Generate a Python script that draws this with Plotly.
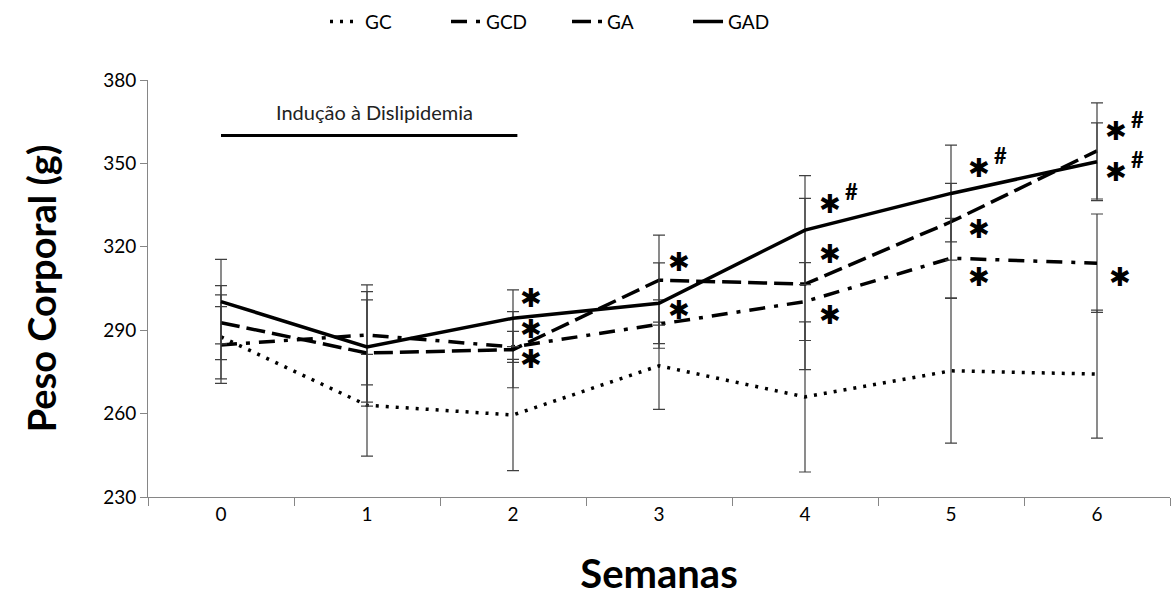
import plotly.graph_objects as go

weeks = ["0", "1", "2", "3", "4", "5", "6"]

gc = [287.6, 263.0, 259.5, 277.2, 266.0, 275.4, 274.2]
gc_err = [15.1, 18.3, 20.0, 15.7, 27.0, 26.0, 23.0]

gcd = [284.7, 288.3, 284.0, 292.2, 300.3, 315.9, 314.1]
gcd_err = [13.8, 18.0, 5.6, 8.7, 14.0, 14.3, 17.7]

ga = [292.7, 281.8, 283.0, 308.0, 306.6, 329.0, 354.5]
ga_err = [13.3, 19.1, 13.7, 16.2, 30.8, 13.8, 17.3]

gad = [300.3, 284.0, 294.3, 299.7, 326.0, 339.2, 350.6]
gad_err = [15.2, 19.9, 10.2, 14.5, 19.6, 17.4, 14.0]

series_names = ["GC", "GCD", "GA", "GAD"]

# significance marks: (x position, y value, has_hash)
stars = [
    (2.12, 301.5, False), (2.12, 290.3, False), (2.12, 279.6, False),
    (3.14, 314.5, False), (3.14, 297.3, False),
    (4.17, 335.5, True), (4.17, 317.5, False), (4.17, 295.3, False),
    (5.19, 348.5, True), (5.19, 326.5, False), (5.19, 309.0, False),
    (6.13, 361.5, True), (6.13, 347.0, True), (6.16, 309.3, False),
]

FONT = "Lato"
fig = go.Figure()

styles = {
    "GC": dict(dash="3px,7px", width=3.5),
    "GCD": dict(dash="16px,9px,4px,9px", width=3.5),
    "GA": dict(dash="19px,7px", width=3.5),
    "GAD": dict(dash="solid", width=3.5),
}
data = {"GC": (gc, gc_err), "GCD": (gcd, gcd_err), "GA": (ga, ga_err), "GAD": (gad, gad_err)}

for name in series_names:
    vals, errs = data[name]
    fig.add_trace(go.Scatter(
        x=weeks, y=vals, name=name, mode="lines",
        line=dict(color="black", width=styles[name]["width"], dash=styles[name]["dash"]),
        error_y=dict(type="data", array=errs, visible=True, color="#404040", thickness=1.2, width=6),
    ))

annotations = []
for sx, sy, hh in stars:
    annotations.append(dict(x=sx, y=sy, xref="x", yref="y", text="✱", showarrow=False,
                            font=dict(family="DejaVu Sans", size=26, color="black"),
                            xanchor="center", yanchor="middle"))
    if hh:
        annotations.append(dict(x=sx, y=sy, xref="x", yref="y", text="<b>#</b>", showarrow=False,
                                font=dict(family=FONT, size=22, color="black"),
                                xanchor="left", yanchor="middle", xshift=13, yshift=12))

annotations.append(dict(x=1.05, y=368.5, xref="x", yref="y", text="Indução à Dislipidemia",
                        showarrow=False, font=dict(family=FONT, size=20, color="#222222"),
                        xanchor="center", yanchor="middle"))

fig.update_layout(
    width=1173, height=604,
    margin=dict(l=148, r=3, t=80, b=107),
    paper_bgcolor="white", plot_bgcolor="white",
    font=dict(family=FONT, color="black"),
    showlegend=True,
    legend=dict(orientation="h", x=0.41, y=1.14, xanchor="center", yanchor="middle",
                font=dict(family=FONT, size=19, color="black"),
                entrywidth=76, entrywidthmode="pixels",
                bgcolor="rgba(0,0,0,0)"),
    annotations=annotations,
    shapes=[dict(type="line", xref="x", yref="y", x0=0, x1=2.03, y0=360, y1=360,
                 line=dict(color="black", width=3))],
)

fig.update_xaxes(
    type="category", range=[-0.5, 6.5], showline=True, linecolor="#868686", linewidth=1,
    ticks="outside", tickson="boundaries", ticklen=8, tickcolor="#868686",
    showgrid=False, zeroline=False,
    tickfont=dict(family=FONT, size=19, color="black"),
    title=dict(text="<b>Semanas</b>", font=dict(family=FONT, size=40, color="black"), standoff=36),
)
fig.update_yaxes(
    range=[230, 380], tick0=230, dtick=30, showline=True, linecolor="#868686", linewidth=1,
    ticks="outside", ticklen=7, tickcolor="#868686", showgrid=False, zeroline=False,
    tickfont=dict(family=FONT, size=19, color="black"),
    title=dict(text="<b>Peso Corporal (g)</b>", font=dict(family=FONT, size=38, color="black"), standoff=34),
)

fig.write_html("out.html")
